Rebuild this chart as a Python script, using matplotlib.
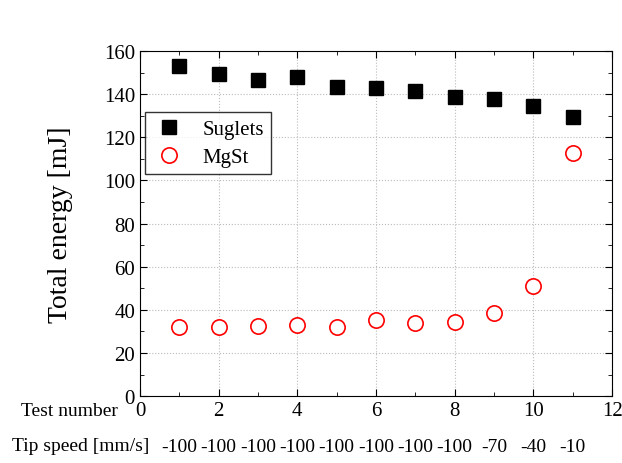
import matplotlib
matplotlib.use("Agg")
import matplotlib.pyplot as plt
from matplotlib.ticker import MultipleLocator

test_number = [1, 2, 3, 4, 5, 6, 7, 8, 9, 10, 11]
suglets = [152.9, 149.3, 146.7, 148.0, 143.2, 142.7, 141.3, 138.8, 137.6, 134.4, 129.3]
mgst = [32.0, 31.9, 32.5, 33.2, 32.2, 35.1, 33.9, 34.3, 38.6, 51.2, 112.7]
tip_speed = ["-100", "-100", "-100", "-100", "-100", "-100", "-100", "-100", "-70", "-40", "-10"]

plt.rcParams["font.family"] = ["Liberation Serif", "DejaVu Serif"]

fig = plt.figure(figsize=(6.22, 4.64), dpi=100)
ax = fig.add_axes([0.225, 0.144, 0.759, 0.744])

ax.plot(test_number, suglets, "s", color="black", markersize=10, label="Suglets")
ax.plot(test_number, mgst, "o", color="red", markerfacecolor="white",
        markeredgewidth=1.2, markersize=11, label="MgSt")

ax.set_xlim(0, 12)
ax.set_ylim(0, 160)
ax.xaxis.set_major_locator(MultipleLocator(2))
ax.xaxis.set_minor_locator(MultipleLocator(1))
ax.yaxis.set_major_locator(MultipleLocator(20))
ax.yaxis.set_minor_locator(MultipleLocator(10))
ax.tick_params(which="both", direction="in", top=True, right=True, labelsize=15)
ax.tick_params(which="major", length=5)
ax.tick_params(which="minor", length=3)
ax.grid(True, which="major", linestyle=":", color="#bbbbbb", linewidth=0.8)
ax.set_axisbelow(True)

ax.set_ylabel("Total energy [mJ]", fontsize=20, labelpad=22)

# row labels under the axis
fig.text(0.19, 1 - 412 / 464, "Test number", ha="right", va="center", fontsize=14)
fig.text(0.02, 1 - 447 / 464, "Tip speed [mm/s]", ha="left", va="center", fontsize=14)
for x, s in zip(test_number, tip_speed):
    ax.annotate(s, xy=(x, 0), xycoords=("data", "axes fraction"),
                xytext=(0, -50), textcoords="offset pixels",
                ha="center", va="center", fontsize=14)

leg = ax.legend(loc="upper left", bbox_to_anchor=(0.011, 0.823), fontsize=15,
                frameon=True, fancybox=False, edgecolor="black",
                borderaxespad=0, borderpad=0.35, handlelength=1.6,
                handletextpad=0.8, labelspacing=0.4)
leg.get_frame().set_linewidth(1.0)

fig.savefig("out.png", dpi=100)
